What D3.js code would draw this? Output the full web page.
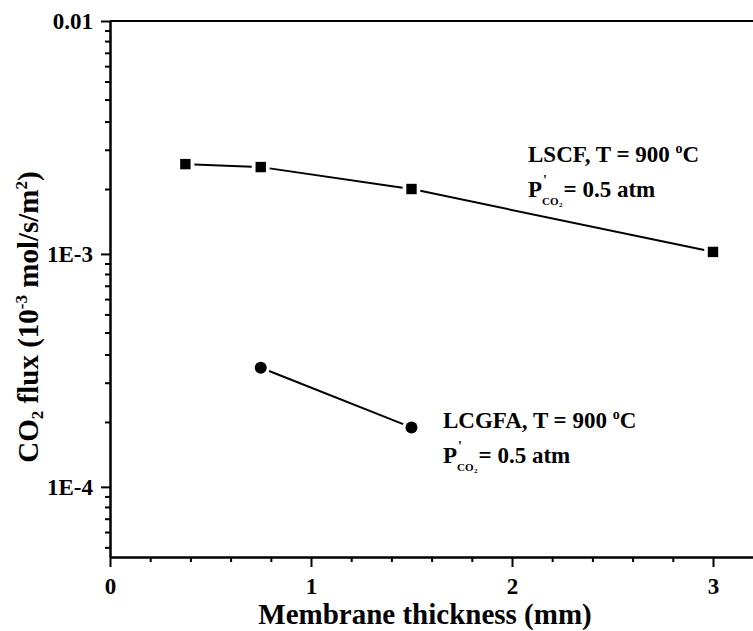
<!DOCTYPE html>
<html>
<head>
<meta charset="utf-8">
<script src="https://cdn.jsdelivr.net/npm/d3@7/dist/d3.min.js"></script>
<style>
  html, body { margin: 0; padding: 0; background: #fff; }
  svg { display: block; }
  text { font-family: "Liberation Serif", "Times New Roman", serif; font-weight: bold; fill: #000; }
</style>
</head>
<body>
<script>
// Membrane thickness (mm) and CO2 flux for the two membrane materials
const lscfThickness = [0.375, 0.75, 1.5, 3.0];
const lscfFlux = [2.43e-3, 2.36e-3, 1.90e-3, 1.02e-3];
const lcgfaThickness = [0.75, 1.5];
const lcgfaFlux = [3.25e-4, 1.80e-4];

// Axis ticks and labels
const xTickValues = [0, 1, 2, 3];
const xTickLabels = ["0", "1", "2", "3"];
const yTickValues = [1e-4, 1e-3, 1e-2];
const yTickLabels = ["1E-4", "1E-3", "0.01"];

const W = 753, H = 631;
const plotLeft = 110, plotRight = 753.2, plotTop = 21, plotBottom = 557;

const svg = d3.select("body").append("svg").attr("width", W).attr("height", H);

const x = d3.scaleLinear().domain([0, 3.2]).range([plotLeft, plotRight]);
const y = d3.scaleLog().domain([5e-5, 1e-2]).range([plotBottom, plotTop]);

// minor ticks: every 0.2 mm on x; ten linear steps per decade on y
const xMinor = d3.range(1, 16).map(i => i * 0.2).filter(v => Math.abs(v - Math.round(v)) > 1e-6);
const yMinor = [];
[-5, -4, -3].forEach(k => {
  const lo = Math.pow(10, k), hi = Math.pow(10, k + 1);
  for (let j = 1; j <= 9; j++) {
    const v = hi - j * 0.9 * lo;
    if (v >= 5e-5) yMinor.push(v);
  }
});

const axisStyle = g => {
  g.selectAll("path.domain").attr("stroke", "#000").attr("stroke-width", 2);
  g.selectAll(".tick line").attr("stroke", "#000").attr("stroke-width", 2);
  g.selectAll(".tick text").style("font-size", "23px").attr("fill", "#000");
};

// minor ticks first
svg.append("g").attr("transform", `translate(0,${plotBottom})`)
  .call(d3.axisBottom(x).tickValues(xMinor).tickSize(5).tickSizeOuter(0).tickFormat(""))
  .call(axisStyle);
svg.append("g").attr("transform", `translate(${plotLeft},0)`)
  .call(d3.axisLeft(y).tickValues(yMinor).tickSize(5).tickSizeOuter(0).tickFormat(""))
  .call(axisStyle);

// major ticks with labels
svg.append("g").attr("transform", `translate(0,${plotBottom})`)
  .call(d3.axisBottom(x).tickValues(xTickValues).tickSize(10).tickSizeOuter(0).tickPadding(11)
    .tickFormat((d, i) => xTickLabels[i]))
  .call(axisStyle);
svg.append("g").attr("transform", `translate(${plotLeft},0)`)
  .call(d3.axisLeft(y).tickValues(yTickValues).tickSize(9).tickSizeOuter(0).tickPadding(8)
    .tickFormat((d, i) => yTickLabels[i]))
  .call(axisStyle);

// top frame line
svg.append("line").attr("x1", plotLeft).attr("x2", plotRight).attr("y1", plotTop).attr("y2", plotTop)
  .attr("stroke", "#000").attr("stroke-width", 2);

// connecting lines, stopping short of the markers
function drawSeries(xs, ys, shape) {
  const pts = xs.map((v, i) => [x(v), y(ys[i])]);
  const gap = 9;
  const g = svg.append("g");
  for (let i = 0; i < pts.length - 1; i++) {
    const [x1, y1] = pts[i], [x2, y2] = pts[i + 1];
    const len = Math.hypot(x2 - x1, y2 - y1);
    const ux = (x2 - x1) / len, uy = (y2 - y1) / len;
    g.append("line")
      .attr("x1", x1 + ux * gap).attr("y1", y1 + uy * gap)
      .attr("x2", x2 - ux * gap).attr("y2", y2 - uy * gap)
      .attr("stroke", "#000").attr("stroke-width", 2);
  }
  pts.forEach(([px, py]) => {
    if (shape === "square") {
      g.append("rect").attr("x", px - 5.2).attr("y", py - 5.2).attr("width", 10.4).attr("height", 10.4).attr("fill", "#000");
    } else {
      g.append("circle").attr("cx", px).attr("cy", py).attr("r", 6).attr("fill", "#000");
    }
  });
}
drawSeries(lscfThickness, lscfFlux, "square");
drawSeries(lcgfaThickness, lcgfaFlux, "circle");

// axis titles
svg.append("text")
  .attr("x", 425).attr("y", 624).attr("text-anchor", "middle")
  .style("font-size", "29px")
  .text("Membrane thickness (mm)");

const yt = svg.append("text")
  .attr("transform", "translate(38,317) rotate(-90)")
  .attr("text-anchor", "middle")
  .style("font-size", "29px");
[
  { t: "CO", s: 29, dy: 0 },
  { t: "2", s: 17, dy: 5 },
  { t: " flux (10", s: 29, dy: -5 },
  { t: "-3", s: 17, dy: -11 },
  { t: " mol/s/m", s: 29, dy: 11 },
  { t: "2", s: 17, dy: -11 },
  { t: ")", s: 29, dy: 11 }
].forEach(p => yt.append("tspan").style("font-size", p.s + "px").attr("dy", p.dy).text(p.t));

// series annotations
function annotate(x0, y0, name) {
  const l1 = svg.append("text").attr("x", x0).attr("y", y0).style("font-size", "23px");
  l1.append("tspan").text(name + ", T = 900 ");
  l1.append("tspan").style("font-size", "14px").attr("dy", -9).text("o");
  l1.append("tspan").attr("dy", 9).text("C");

  const y1 = y0 + 35;
  const p = svg.append("text").attr("x", x0).attr("y", y1).style("font-size", "23px").text("P");
  const pw = p.node().getComputedTextLength();
  svg.append("text").attr("x", x0 + pw + 1).attr("y", y1 - 12).style("font-size", "14px").text("'");
  const co = svg.append("text").attr("x", x0 + pw).attr("y", y1 + 8).style("font-size", "11px").text("CO");
  const cw = co.node().getComputedTextLength();
  const two = svg.append("text").attr("x", x0 + pw + cw + 0.5).attr("y", y1 + 10).style("font-size", "7px").text("2");
  const tw = two.node().getComputedTextLength();
  svg.append("text").attr("x", x0 + pw + cw + tw + 1.5).attr("y", y1).style("font-size", "23px").text("= 0.5 atm");
}
annotate(528, 162, "LSCF");
annotate(443, 428, "LCGFA");
</script>
</body>
</html>
